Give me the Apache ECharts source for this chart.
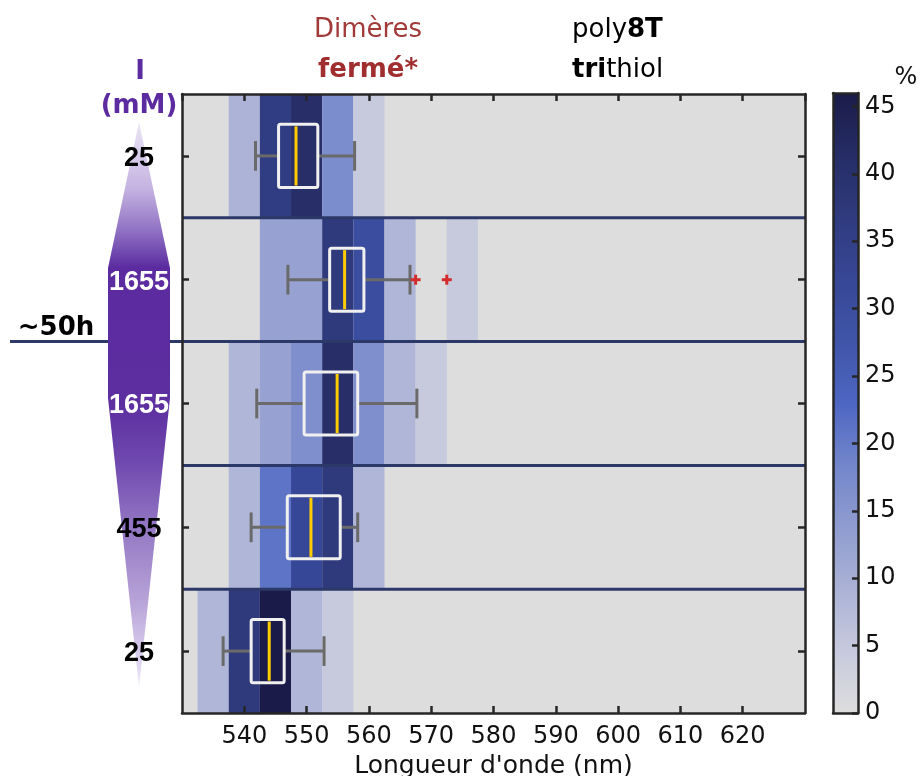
<!DOCTYPE html>
<html>
<head>
<meta charset="utf-8">
<script src="https://cdn.jsdelivr.net/npm/echarts@6/dist/echarts.min.js"></script>
<style>
html,body{margin:0;padding:0;background:#fff;}
#chart{width:920px;height:776px;}
</style>
</head>
<body>
<div id="chart"></div>
<script>
// ---------- DATA ----------
// rows from bottom (index 0) to top (index 4): ionic strength in mM
const rowLabels = ['25', '455', '1655', '1655', '25'];
// histogram bin centres (nm), bin width 5 nm
const binCenters = [535, 540, 545, 550, 555, 560, 565, 570, 575];
// percentage of spectra per bin, one array per row (bottom -> top)
const pctRow0 = [8.5, 37, 46, 8.5, 4.5, 0, 0, 0, 0];        // 25 mM (start)
const pctRow1 = [0, 8.5, 21, 32, 37, 8.5, 0, 0, 0];         // 455 mM
const pctRow2 = [0, 8.5, 12.5, 16.5, 41, 16.5, 8.5, 4.5, 0]; // 1655 mM after ~50h
const pctRow3 = [0, 0, 12.5, 12.5, 37, 30, 8.5, 0, 4.5];     // 1655 mM
const pctRow4 = [0, 9, 36, 41, 17, 4.5, 0, 0, 0];            // 25 mM (top)
// boxplot stats per row: [lower whisker, Q1, median, Q3, upper whisker]
const boxRow0 = [536.6, 541.1, 544.0, 546.4, 552.8];
const boxRow1 = [541.1, 546.9, 550.7, 555.4, 558.2];
const boxRow2 = [542.0, 549.6, 554.9, 558.2, 567.7];
const boxRow3 = [547.0, 553.7, 556.1, 559.2, 566.6];
const boxRow4 = [541.8, 545.5, 548.3, 551.8, 557.7];
// outliers: [wavelength, row]
const outliers = [[567.5, 3], [572.5, 3]];
// row boundaries (between row i-1 and i); the ~50h one is extended
const boundaries = [1, 2, 3, 4];
const boundary50h = 3;
// axes
const xMin = 530, xMax = 630, xStep = 10;
const cMin = 0, cMax = 46, cStep = 5;
// colour map of the colour bar (evenly spaced from cMin to cMax)
const cmap = ['#dddddd', '#c7cadd', '#abb2d6', '#8f9cd0', '#7386cb', '#4d66c2',
              '#4055a8', '#374696', '#2f3b7e', '#262d66', '#1a1b48'];

// ---------- BUILD ----------
const pctRows = [pctRow0, pctRow1, pctRow2, pctRow3, pctRow4];
const boxRows = [boxRow0, boxRow1, boxRow2, boxRow3, boxRow4];
const heatData = [];
pctRows.forEach((row, r) => row.forEach((v, i) => { if (v > 0) heatData.push([binCenters[i], r, v]); }));
const boxData = boxRows.map((b, r) => [r].concat(b));
const sepData = boundaries.map(b => [xMin, b, b === boundary50h ? 1 : 0]);

const FONT = 'DejaVu Sans';
const grid0 = {left: 182, top: 94, width: 623, height: 619};
const grid1 = {left: 833, top: 93, width: 25, height: 620};

const chart = echarts.init(document.getElementById('chart'), null, {renderer: 'canvas'});

const axisLineStyle = {color: '#262626', width: 2.5};
const tickStyle = {color: '#262626', width: 2.5};

const option = {
  animation: false,
  backgroundColor: '#ffffff',
  grid: [
    Object.assign({show: true, backgroundColor: '#dddddd', borderWidth: 0, containLabel: false, outerBoundsMode: 'none'}, grid0),
    Object.assign({show: false, containLabel: false, outerBoundsMode: 'none'}, grid1)
  ],
  xAxis: [
    {gridIndex: 0, type: 'value', min: xMin, max: xMax, interval: xStep, position: 'bottom', z: 10,
     axisLine: {show: true, lineStyle: axisLineStyle},
     axisTick: {show: true, inside: true, length: 7, lineStyle: tickStyle},
     axisLabel: {show: true, showMinLabel: false, showMaxLabel: false, margin: 12,
                 fontFamily: FONT, fontSize: 24, color: '#111'},
     splitLine: {show: false},
     name: "Longueur d'onde (nm)", nameLocation: 'middle', nameGap: 37,
     nameTextStyle: {fontFamily: FONT, fontSize: 25, color: '#111'}},
    {gridIndex: 0, type: 'value', min: xMin, max: xMax, interval: xStep, position: 'top', z: 10,
     axisLine: {show: true, lineStyle: axisLineStyle},
     axisTick: {show: true, inside: true, length: 7, lineStyle: tickStyle},
     axisLabel: {show: false}, splitLine: {show: false}},
    {gridIndex: 1, type: 'value', min: 0, max: 1, position: 'bottom', z: 10,
     axisLine: {show: true, onZero: false, lineStyle: axisLineStyle},
     axisTick: {show: false}, axisLabel: {show: false}, splitLine: {show: false}},
    {gridIndex: 1, type: 'value', min: 0, max: 1, position: 'top', z: 10,
     axisLine: {show: true, onZero: false, lineStyle: axisLineStyle},
     axisTick: {show: false}, axisLabel: {show: false}, splitLine: {show: false}}
  ],
  yAxis: [
    {gridIndex: 0, type: 'category', data: rowLabels, position: 'left', z: 10,
     axisLine: {show: true, lineStyle: axisLineStyle},
     axisTick: {show: true, inside: true, length: 7, alignWithLabel: true, lineStyle: tickStyle},
     axisLabel: {show: true, margin: 43, align: 'center',
       formatter: (v, i) => (i === 2 || i === 3) ? '{w|' + v + '}' : '{k|' + v + '}',
       rich: {
         w: {fontFamily: 'Liberation Sans', fontWeight: 'bold', fontSize: 27, color: '#ffffff', padding: [5, 0, 0, 0]},
         k: {fontFamily: 'Liberation Sans', fontWeight: 'bold', fontSize: 27, color: '#000000', padding: [5, 0, 0, 0]}
       }},
     splitLine: {show: false}},
    {gridIndex: 0, type: 'category', data: rowLabels, position: 'right', z: 10,
     axisLine: {show: true, lineStyle: axisLineStyle},
     axisTick: {show: true, inside: true, length: 7, alignWithLabel: true, lineStyle: tickStyle},
     axisLabel: {show: false}, splitLine: {show: false}},
    {gridIndex: 1, type: 'value', min: cMin, max: cMax, interval: cStep, position: 'right', z: 10,
     axisLine: {show: true, onZero: false, lineStyle: axisLineStyle},
     axisTick: {show: true, inside: true, length: 6, lineStyle: tickStyle},
     axisLabel: {show: true, showMaxLabel: false, margin: 7, fontFamily: FONT, fontSize: 24, color: '#111'},
     splitLine: {show: false}},
    {gridIndex: 1, type: 'value', min: cMin, max: cMax, position: 'left', z: 10,
     axisLine: {show: true, onZero: false, lineStyle: axisLineStyle},
     axisTick: {show: false}, axisLabel: {show: false}, splitLine: {show: false}}
  ],
  visualMap: {
    show: false, type: 'continuous', min: cMin, max: cMax, dimension: 2, seriesIndex: 0,
    inRange: {color: cmap}
  },
  series: [
    {
      type: 'custom', name: 'cells', xAxisIndex: 0, yAxisIndex: 0, z: 2,
      data: heatData,
      encode: {x: 0, y: 1},
      renderItem: function (params, api) {
        const p = api.coord([api.value(0), api.value(1)]);
        const s = api.size([5, 1]);
        return {type: 'rect',
          shape: {x: p[0] - s[0] / 2, y: p[1] - s[1] / 2, width: s[0], height: s[1]},
          style: {fill: api.visual('color')}};
      }
    },
    {
      type: 'custom', name: 'separators', xAxisIndex: 0, yAxisIndex: 0, z: 3, clip: false,
      data: sepData, encode: {x: 0, y: 1},
      renderItem: function (params, api) {
        const r = api.value(1);
        const c = api.coord([xMin, r]);
        const right = api.coord([xMax, r])[0];
        const h = api.size([0, 1])[1];
        const y = c[1] + h / 2;
        const x0 = api.value(2) ? c[0] - 172 : c[0];
        return {type: 'line', shape: {x1: x0, y1: y, x2: right, y2: y},
          style: {stroke: '#2c3868', lineWidth: 3}};
      }
    },
    {
      type: 'custom', name: 'boxes', xAxisIndex: 0, yAxisIndex: 0, z: 5,
      data: boxData, encode: {y: 0, x: [1, 2, 3, 4, 5]},
      renderItem: function (params, api) {
        const r = api.value(0);
        const h = api.size([0, 1])[1];
        const lo = api.coord([api.value(1), r]);
        const q1 = api.coord([api.value(2), r]);
        const md = api.coord([api.value(3), r]);
        const q3 = api.coord([api.value(4), r]);
        const hi = api.coord([api.value(5), r]);
        const y = lo[1];
        const bh = h * 0.51, ch = h * 0.24;
        const wStyle = {stroke: '#6a6a6a', lineWidth: 3};
        return {type: 'group', children: [
          {type: 'line', shape: {x1: lo[0], y1: y, x2: q1[0], y2: y}, style: wStyle},
          {type: 'line', shape: {x1: q3[0], y1: y, x2: hi[0], y2: y}, style: wStyle},
          {type: 'line', shape: {x1: lo[0], y1: y - ch / 2, x2: lo[0], y2: y + ch / 2}, style: wStyle},
          {type: 'line', shape: {x1: hi[0], y1: y - ch / 2, x2: hi[0], y2: y + ch / 2}, style: wStyle},
          {type: 'rect', shape: {x: q1[0], y: y - bh / 2, width: q3[0] - q1[0], height: bh, r: 2},
           style: {fill: null, stroke: '#f0f0f0', lineWidth: 3}},
          {type: 'line', shape: {x1: md[0], y1: y - bh / 2 + 2, x2: md[0], y2: y + bh / 2 - 2},
           style: {stroke: '#ffcc00', lineWidth: 3}}
        ]};
      }
    },
    {
      type: 'custom', name: 'outliers', xAxisIndex: 0, yAxisIndex: 0, z: 6,
      data: outliers, encode: {x: 0, y: 1},
      renderItem: function (params, api) {
        const p = api.coord([api.value(0), api.value(1)]);
        const a = 5;
        const st = {stroke: '#d42c2c', lineWidth: 3};
        return {type: 'group', children: [
          {type: 'line', shape: {x1: p[0] - a, y1: p[1], x2: p[0] + a, y2: p[1]}, style: st},
          {type: 'line', shape: {x1: p[0], y1: p[1] - a, x2: p[0], y2: p[1] + a}, style: st}
        ]};
      }
    }
  ],
  graphic: [
    // purple ionic-strength spindle
    {type: 'polygon', z: 4,
     shape: {points: [[139, 122], [170, 268], [170, 398], [139, 687], [108, 398], [108, 268]]},
     style: {fill: new echarts.graphic.LinearGradient(0, 0, 0, 1, [
       {offset: 0, color: '#ece6f6'}, {offset: 0.12, color: '#c4b2e0'},
       {offset: 0.2, color: '#8a6ac0'}, {offset: 0.258, color: '#5b2b9f'},
       {offset: 0.5, color: '#5d2ea0'}, {offset: 0.6, color: '#6f48ae'},
       {offset: 0.72, color: '#9478c4'}, {offset: 0.85, color: '#b8a4d8'},
       {offset: 0.94, color: '#d8ccec'}, {offset: 1, color: '#efeaf8'}])}},
    // colour bar
    {type: 'rect', z: 4,
     shape: {x: grid1.left, y: grid1.top, width: grid1.width, height: grid1.height},
     style: {fill: new echarts.graphic.LinearGradient(0, 1, 0, 0,
       cmap.map((c, i) => ({offset: i / (cmap.length - 1), color: c})))}},
    {type: 'text', z: 20, style: {text: '%', x: 906, y: 78, align: 'center', verticalAlign: 'middle',
      font: '24px "DejaVu Sans"', fill: '#111'}},
    {type: 'text', z: 20, style: {text: 'I', x: 140, y: 72, align: 'center', verticalAlign: 'middle',
      font: 'bold 26px "DejaVu Sans"', fill: '#5b2b9f'}},
    {type: 'text', z: 20, style: {text: '(mM)', x: 139, y: 106, align: 'center', verticalAlign: 'middle',
      font: 'bold 26px "DejaVu Sans"', fill: '#5b2b9f'}},
    {type: 'text', z: 20, style: {text: '~50h', x: 56, y: 328, align: 'center', verticalAlign: 'middle',
      font: 'bold 26px "DejaVu Sans"', fill: '#000'}},
    {type: 'text', z: 20, style: {text: 'Dimères', x: 368, y: 30, align: 'center', verticalAlign: 'middle',
      font: '26px "DejaVu Sans"', fill: '#a33a3a'}},
    {type: 'text', z: 20, style: {text: 'fermé*', x: 368, y: 70, align: 'center', verticalAlign: 'middle',
      font: 'bold 26px "DejaVu Sans"', fill: '#a02e2e'}},
    {type: 'text', z: 20, style: {text: '{a|poly}{b|8T}', x: 572, y: 30, align: 'left', verticalAlign: 'middle',
      rich: {a: {fontFamily: FONT, fontSize: 26, color: '#000'},
             b: {fontFamily: FONT, fontSize: 26, fontWeight: 'bold', color: '#000'}}}},
    {type: 'text', z: 20, style: {text: '{b|tri}{a|thiol}', x: 572, y: 70, align: 'left', verticalAlign: 'middle',
      rich: {a: {fontFamily: FONT, fontSize: 26, color: '#000'},
             b: {fontFamily: FONT, fontSize: 26, fontWeight: 'bold', color: '#000'}}}}
  ]
};
chart.setOption(option);
</script>
</body>
</html>
